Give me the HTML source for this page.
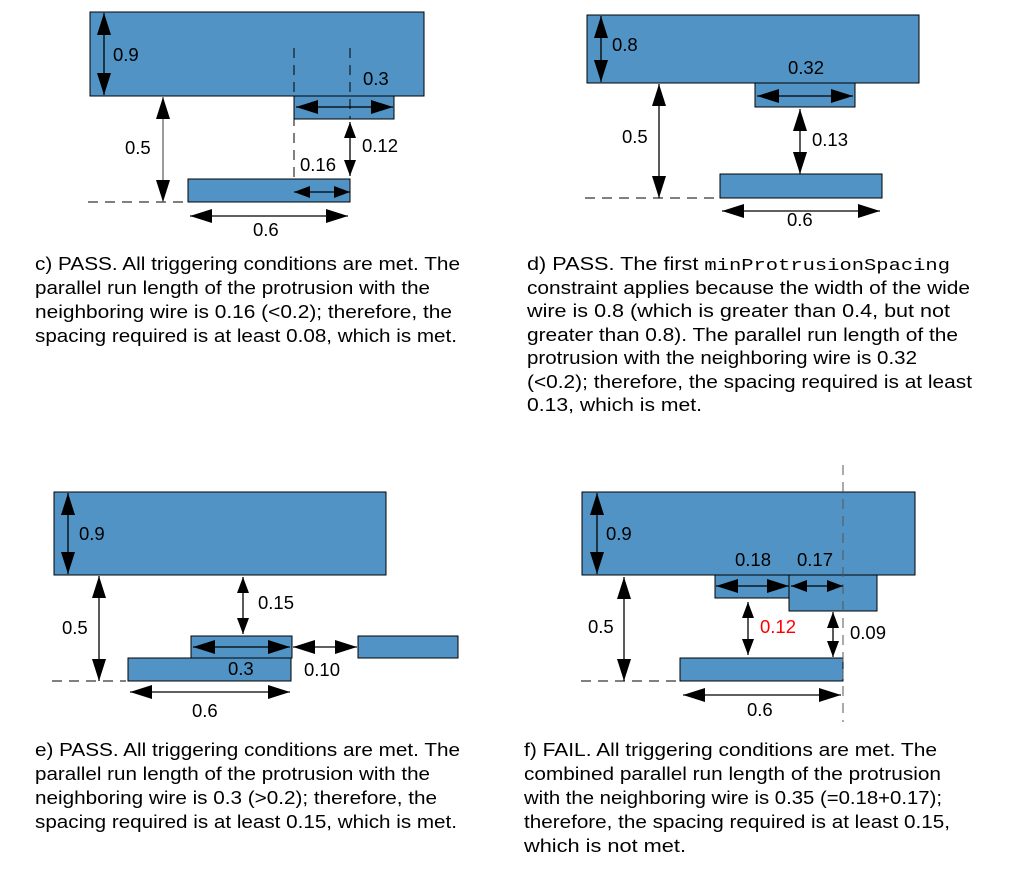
<!DOCTYPE html>
<html><head><meta charset="utf-8"><style>
html,body{margin:0;padding:0;background:#fff;}
svg{display:block;}
text{font-family:"Liberation Sans",sans-serif;font-size:18px;fill:#000;}
.l{font-size:18.5px;}
.m{font-family:"Liberation Mono",monospace;font-size:17px;}
.r{fill:#5093c4;stroke:#000;stroke-width:1;}
.a{stroke:#000;stroke-width:1.3;fill:none;marker-start:url(#ah);marker-end:url(#ah);}
.g{stroke:#666;}
.s{marker-start:url(#as);marker-end:url(#as);}
.d{stroke:#000;stroke-width:1;stroke-dasharray:10,7;fill:none;}
</style></head><body>
<svg width="1013" height="882" viewBox="0 0 1013 882" xmlns="http://www.w3.org/2000/svg">
<defs>
<marker id="ah" markerUnits="userSpaceOnUse" viewBox="0 0 22 14" markerWidth="22" markerHeight="14" refX="22" refY="7" orient="auto-start-reverse"><path d="M0,0 L22,7 L0,14z" fill="#000"/></marker>
<marker id="as" markerUnits="userSpaceOnUse" viewBox="0 0 16 12" markerWidth="16" markerHeight="12" refX="16" refY="6" orient="auto-start-reverse"><path d="M0,0 L16,6 L0,12z" fill="#000"/></marker>
</defs>

<!-- Panel c -->
<rect class="r" x="90" y="12" width="334" height="84"/>
<rect class="r" x="294" y="96" width="100" height="23"/>
<rect class="r" x="188" y="179" width="162" height="23"/>
<line class="d" x1="294" y1="48" x2="294" y2="179"/>
<line class="d" x1="350" y1="48" x2="350" y2="119"/>
<line class="d" x1="88" y1="202" x2="186" y2="202"/>
<line class="a" x1="104" y1="13" x2="104" y2="95"/>
<text class="l" x="113" y="61">0.9</text>
<line class="a" x1="296" y1="107" x2="393" y2="107"/>
<text class="l" x="363" y="85">0.3</text>
<line class="a s" x1="350" y1="122" x2="350" y2="176"/>
<text class="l" x="362" y="152">0.12</text>
<line class="a g" x1="163" y1="97" x2="163" y2="202"/>
<text class="l" x="125" y="154">0.5</text>
<line class="a s" x1="294" y1="192" x2="350" y2="192"/>
<text class="l" x="300" y="171">0.16</text>
<line class="a" x1="190" y1="216" x2="348" y2="216"/>
<text class="l" x="253" y="236">0.6</text>
<text x="35" y="270" textLength="425" lengthAdjust="spacingAndGlyphs">c) PASS. All triggering conditions are met. The</text>
<text x="35" y="294" textLength="395" lengthAdjust="spacingAndGlyphs">parallel run length of the protrusion with the</text>
<text x="35" y="318" textLength="417" lengthAdjust="spacingAndGlyphs">neighboring wire is 0.16 (&lt;0.2); therefore, the</text>
<text x="35" y="342" textLength="422" lengthAdjust="spacingAndGlyphs">spacing required is at least 0.08, which is met.</text>

<!-- Panel d -->
<rect class="r" x="587" y="15" width="332" height="68"/>
<rect class="r" x="755" y="83" width="100" height="24"/>
<rect class="r" x="720" y="174" width="162" height="24"/>
<line class="d" x1="585" y1="198" x2="718" y2="198"/>
<line class="a" x1="601" y1="16" x2="601" y2="82"/>
<text class="l" x="612" y="51">0.8</text>
<line class="a" x1="757" y1="96" x2="853" y2="96"/>
<text class="l" x="788" y="74">0.32</text>
<line class="a" x1="800" y1="109" x2="800" y2="174"/>
<text class="l" x="812" y="146">0.13</text>
<line class="a" x1="659" y1="84" x2="659" y2="198"/>
<text class="l" x="622" y="143">0.5</text>
<line class="a" x1="722" y1="211" x2="880" y2="211"/>
<text class="l" x="787" y="226">0.6</text>
<text x="527" y="270" textLength="423" lengthAdjust="spacingAndGlyphs">d) PASS. The first <tspan class="m">minProtrusionSpacing</tspan></text>
<text x="527" y="294" textLength="443" lengthAdjust="spacingAndGlyphs">constraint applies because the width of the wide</text>
<text x="527" y="317" textLength="423" lengthAdjust="spacingAndGlyphs">wire is 0.8 (which is greater than 0.4, but not</text>
<text x="527" y="341" textLength="431" lengthAdjust="spacingAndGlyphs">greater than 0.8). The parallel run length of the</text>
<text x="527" y="364" textLength="390" lengthAdjust="spacingAndGlyphs">protrusion with the neighboring wire is 0.32</text>
<text x="527" y="388" textLength="445" lengthAdjust="spacingAndGlyphs">(&lt;0.2); therefore, the spacing required is at least</text>
<text x="527" y="411" textLength="175" lengthAdjust="spacingAndGlyphs">0.13, which is met.</text>

<!-- Panel e -->
<rect class="r" x="54" y="492" width="332" height="83"/>
<rect class="r" x="128" y="658" width="163" height="23"/>
<rect class="r" x="191" y="636" width="101" height="22"/>
<rect class="r" x="358" y="636" width="100" height="22"/>
<line class="d" x1="52" y1="681" x2="126" y2="681"/>
<line class="a" x1="68" y1="493" x2="68" y2="574"/>
<text class="l" x="79" y="540">0.9</text>
<line class="a s" x1="243" y1="577" x2="243" y2="634"/>
<text class="l" x="258" y="609">0.15</text>
<line class="a" x1="193" y1="647" x2="290" y2="647"/>
<text class="l" x="228" y="675">0.3</text>
<line class="a" x1="293" y1="647" x2="357" y2="647"/>
<text class="l" x="304" y="676">0.10</text>
<line class="a" x1="99" y1="576" x2="99" y2="681"/>
<text class="l" x="62" y="634">0.5</text>
<line class="a" x1="130" y1="692" x2="290" y2="692"/>
<text class="l" x="192" y="717">0.6</text>
<text x="35" y="756" textLength="425" lengthAdjust="spacingAndGlyphs">e) PASS. All triggering conditions are met. The</text>
<text x="35" y="780" textLength="395" lengthAdjust="spacingAndGlyphs">parallel run length of the protrusion with the</text>
<text x="35" y="804" textLength="402" lengthAdjust="spacingAndGlyphs">neighboring wire is 0.3 (&gt;0.2); therefore, the</text>
<text x="35" y="828" textLength="422" lengthAdjust="spacingAndGlyphs">spacing required is at least 0.15, which is met.</text>

<!-- Panel f -->
<rect class="r" x="582" y="492" width="333" height="83"/>
<rect class="r" x="789" y="575" width="88" height="36"/>
<rect class="r" x="715" y="575" width="74" height="23"/>
<rect class="r" x="680" y="658" width="163" height="23"/>
<line class="d" x1="843" y1="465" x2="843" y2="722" style="stroke:#555"/>
<line class="d" x1="581" y1="681" x2="678" y2="681"/>
<line class="a" x1="597" y1="493" x2="597" y2="574"/>
<text class="l" x="606" y="540">0.9</text>
<line class="a" x1="716" y1="586" x2="789" y2="586"/>
<text class="l" x="735" y="566">0.18</text>
<line class="a s" x1="791" y1="586" x2="843" y2="586"/>
<text class="l" x="797" y="566">0.17</text>
<line class="a s" x1="748" y1="602" x2="748" y2="655"/>
<text class="l" x="760" y="633" style="fill:#f00">0.12</text>
<line class="a s" x1="833" y1="612" x2="833" y2="657"/>
<text class="l" x="850" y="639">0.09</text>
<line class="a" x1="624" y1="577" x2="624" y2="681"/>
<text class="l" x="588" y="633">0.5</text>
<line class="a" x1="683" y1="695" x2="841" y2="695"/>
<text class="l" x="747" y="716">0.6</text>
<text x="524" y="756" textLength="413" lengthAdjust="spacingAndGlyphs">f) FAIL. All triggering conditions are met. The</text>
<text x="524" y="780" textLength="417" lengthAdjust="spacingAndGlyphs">combined parallel run length of the protrusion</text>
<text x="524" y="804" textLength="418" lengthAdjust="spacingAndGlyphs">with the neighboring wire is 0.35 (=0.18+0.17);</text>
<text x="524" y="828" textLength="426" lengthAdjust="spacingAndGlyphs">therefore, the spacing required is at least 0.15,</text>
<text x="524" y="852" textLength="162" lengthAdjust="spacingAndGlyphs">which is not met.</text>
</svg>
</body></html>
